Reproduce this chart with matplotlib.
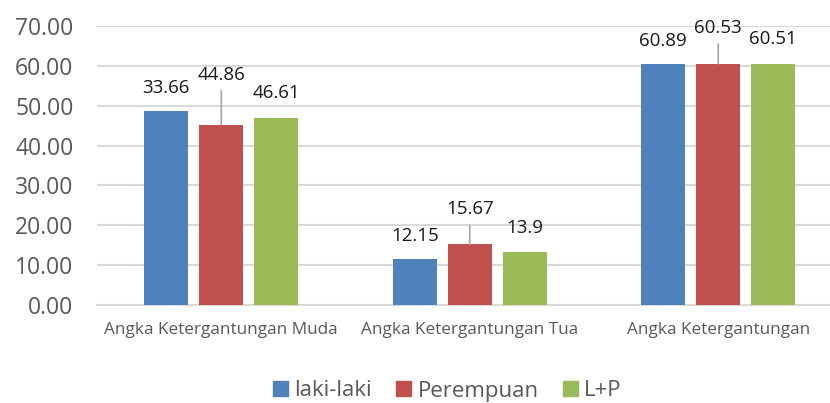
import numpy as np
import matplotlib
matplotlib.use("Agg")
import matplotlib.pyplot as plt
from matplotlib.patches import Patch

categories = ["Angka Ketergantungan Muda", "Angka Ketergantungan Tua", "Angka Ketergantungan"]
series = ["laki-laki", "Perempuan", "L+P"]
# bar heights as drawn
laki = [48.7, 11.5, 60.5]
perempuan = [45.2, 15.2, 60.5]
lp = [46.9, 13.4, 60.5]
# data labels as printed on the chart
lbl_laki = ["33.66", "12.15", "60.89"]
lbl_perempuan = ["44.86", "15.67", "60.53"]
lbl_lp = ["46.61", "13.9", "60.51"]
yticks = [0, 10, 20, 30, 40, 50, 60, 70]

colors = ["#4f81bd", "#c0504d", "#9bbb59"]
# label offset above bar top, px
offs = [[23, 23, 23], [50, 35, 36], [25, 24, 25]]
leader = [False, True, False]

plt.rcParams['font.family'] = ['Open Sans', 'DejaVu Sans']

fig = plt.figure(figsize=(8.3, 4.03), dpi=100)
ax = fig.add_axes([97/830, 98/403, 1 - 97/830, (377-98)/403])

x = np.arange(len(categories))
w = 0.177
step = 0.2213
vals = [laki, perempuan, lp]
lbls = [lbl_laki, lbl_perempuan, lbl_lp]
for i in range(3):
    pos = x + (i - 1)*step
    ax.bar(pos, vals[i], width=w, color=colors[i], zorder=3)
    for j in range(3):
        px = offs[i][j]*0.72
        if leader[i]:
            ax.annotate(lbls[i][j], (pos[j], vals[i][j]), xytext=(0, px), textcoords="offset points",
                        ha="center", va="center", fontsize=13.5, color="#1a1a1a",
                        arrowprops=dict(arrowstyle="-", color="#a6a6a6", lw=1.2, shrinkA=3, shrinkB=0))
        else:
            ax.annotate(lbls[i][j], (pos[j], vals[i][j]), xytext=(0, px), textcoords="offset points",
                        ha="center", va="center", fontsize=13.5, color="#1a1a1a")

ax.set_ylim(0, 70)
ax.set_xlim(-0.5, -0.5 + 733/248.5)
ax.set_yticks(yticks)
ax.set_yticklabels(["%.2f" % v for v in yticks], fontsize=16.5, color="#595959")
ax.set_xticks(x)
ax.set_xticklabels(categories, fontsize=12.3, color="#595959")
ax.tick_params(axis="y", length=0, pad=17)
ax.tick_params(axis="x", length=0, pad=12)
ax.grid(axis="y", color="#d9d9d9", lw=1.5, zorder=0)
for s in ["top", "right", "left"]:
    ax.spines[s].set_visible(False)
ax.spines["bottom"].set_color("#d9d9d9")
ax.spines["bottom"].set_linewidth(1.5)

handles = [Patch(color=c) for c in colors]
fig.legend(handles, series, loc="center", bbox_to_anchor=(447.5/830, 1 - 391/403), ncol=3,
           frameon=False, fontsize=16, handlelength=0.65, handleheight=0.65,
           handletextpad=0.3, columnspacing=1.1, labelcolor="#595959")

fig.savefig("out.png", dpi=100)
